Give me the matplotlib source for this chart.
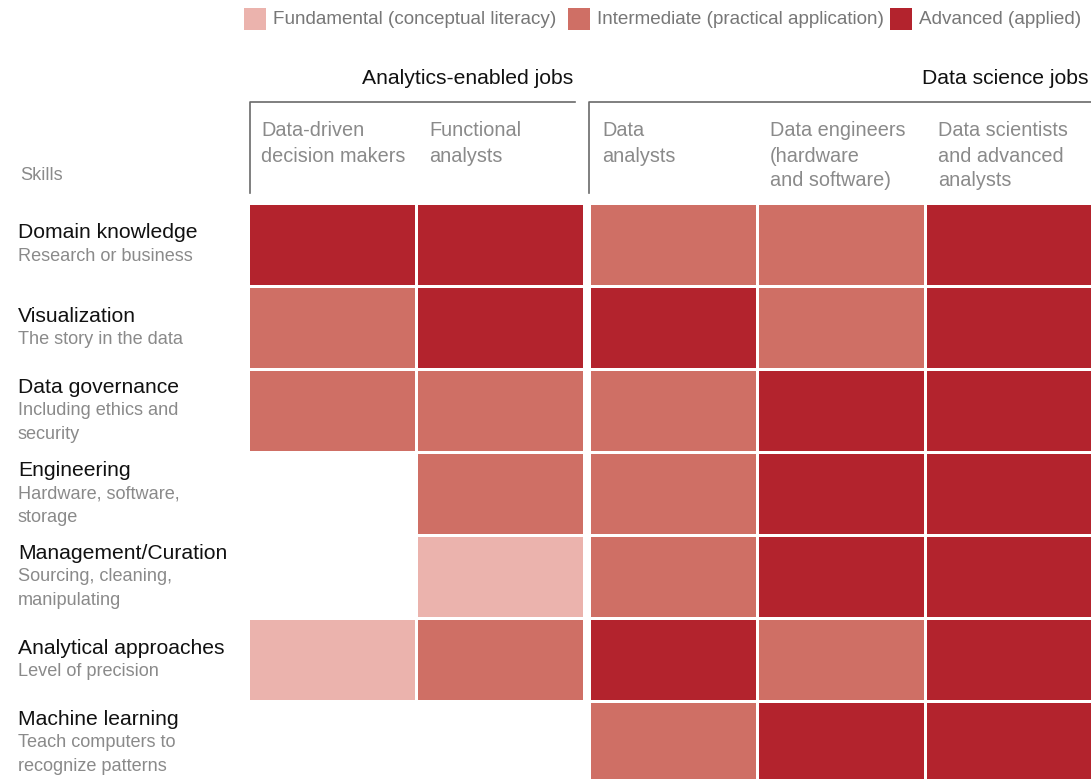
import matplotlib
matplotlib.use("Agg")
import matplotlib.pyplot as plt
from matplotlib.patches import Rectangle

plt.rcParams['font.family'] = ['Liberation Sans', 'DejaVu Sans']

# ---- data ----
levels = ["Fundamental (conceptual literacy)", "Intermediate (practical application)", "Advanced (applied)"]
level_colors = ["#ebb3ad", "#cf6f65", "#b3232d"]

groups = ["Analytics-enabled jobs", "Data science jobs"]
group_sizes = [2, 3]
jobs = ["Data-driven\ndecision makers", "Functional\nanalysts", "Data\nanalysts",
        "Data engineers\n(hardware\nand software)", "Data scientists\nand advanced\nanalysts"]

skills = ["Domain knowledge", "Visualization", "Data governance", "Engineering",
          "Management/Curation", "Analytical approaches", "Machine learning"]
skill_desc = ["Research or business", "The story in the data", "Including ethics and\nsecurity",
              "Hardware, software,\nstorage", "Sourcing, cleaning,\nmanipulating", "Level of precision",
              "Teach computers to\nrecognize patterns"]

# 0 = not required, 1 = fundamental, 2 = intermediate, 3 = advanced
matrix = [
    [3, 3, 2, 2, 3],
    [2, 3, 3, 2, 3],
    [2, 2, 2, 3, 3],
    [0, 2, 2, 3, 3],
    [0, 1, 2, 3, 3],
    [1, 2, 3, 2, 3],
    [0, 0, 2, 3, 3],
]

# ---- layout ----
W, H = 1091, 779
fig = plt.figure(figsize=(W / 100, H / 100), dpi=100)

col_pitch = 168.0
row_pitch = 83.0
group_gap = 5.0 / col_pitch
left_px, top_px = 250, 205
n_rows = len(skills)
n_cols = len(jobs)
ax_w = n_cols + group_gap
ax_w_px = ax_w * col_pitch
ax_h_px = n_rows * row_pitch
ax = fig.add_axes([left_px / W, (H - top_px - ax_h_px) / H, ax_w_px / W, ax_h_px / H])
ax.set_xlim(0, ax_w)
ax.set_ylim(n_rows, 0)
ax.axis('off')

col_x = []
c = 0
for gi, gs in enumerate(group_sizes):
    for k in range(gs):
        col_x.append(c + k + gi * group_gap)
    c += gs

cell_w = 1 - 3 / col_pitch
cell_h = 1 - 3.5 / row_pitch
for r, row in enumerate(matrix):
    for ci, v in enumerate(row):
        if v > 0:
            ax.bar(col_x[ci], cell_h, width=cell_w, bottom=r, align='edge',
                   color=level_colors[v - 1], linewidth=0, clip_on=False)

# row labels
line_px = 23.5
title_fs = 15.2
sub_fs = 13.1
head_fs = 14.3
for r, (s, d) in enumerate(zip(skills, skill_desc)):
    sub_lines = d.split("\n")
    n = 1 + len(sub_lines)
    center = r + cell_h / 2
    first = (n - 1) / 2 * line_px
    ax.annotate(s, xy=(0, center), xycoords=('axes fraction', 'data'),
                xytext=(18 - left_px, first), textcoords='offset pixels',
                ha='left', va='center', fontsize=title_fs, color='#111111')
    for li, line in enumerate(sub_lines):
        ax.annotate(line, xy=(0, center), xycoords=('axes fraction', 'data'),
                    xytext=(18 - left_px, first - (li + 1) * line_px), textcoords='offset pixels',
                    ha='left', va='center', fontsize=sub_fs, color='#8a8a8a')

# column headers
for ci, j in enumerate(jobs):
    for li, line in enumerate(j.split("\n")):
        ax.annotate(line, xy=(col_x[ci], 0), xycoords='data',
                    xytext=(11, 74 - li * 25), textcoords='offset pixels',
                    ha='left', va='center', fontsize=head_fs, color='#8a8a8a')

# group brackets and titles
c = 0
group_right_px = [575, 1091]
for gi, (g, gs) in enumerate(zip(groups, group_sizes)):
    x0 = col_x[c]
    xs_px = left_px + x0 * col_pitch - (0 if gi == 0 else 2)
    fx0 = xs_px / W
    fx1 = group_right_px[gi] / W
    ytop = (H - 102) / H
    ybot = (H - 193) / H
    fig.add_artist(plt.Line2D([fx0, fx0, fx1], [ybot, ytop, ytop], color='#6a6a6a', lw=1.2))
    fig.text((group_right_px[gi] - 2) / W, (H - 79) / H, g,
             ha='right', va='center', fontsize=title_fs, color='#111111')
    c += gs

fig.text(20 / W, (H - 176) / H, "Skills", ha='left', va='center', fontsize=sub_fs, color='#8a8a8a')

# legend
leg_x = [244, 568, 890]
for lx, lab, col in zip(leg_x, levels, level_colors):
    fig.add_artist(Rectangle((lx / W, (H - 30) / H), 22 / W, 22 / H, color=col, lw=0))
    fig.text((lx + 29) / W, (H - 19) / H, lab, ha='left', va='center', fontsize=13.6, color='#777777')

fig.savefig("out.png", dpi=100)
